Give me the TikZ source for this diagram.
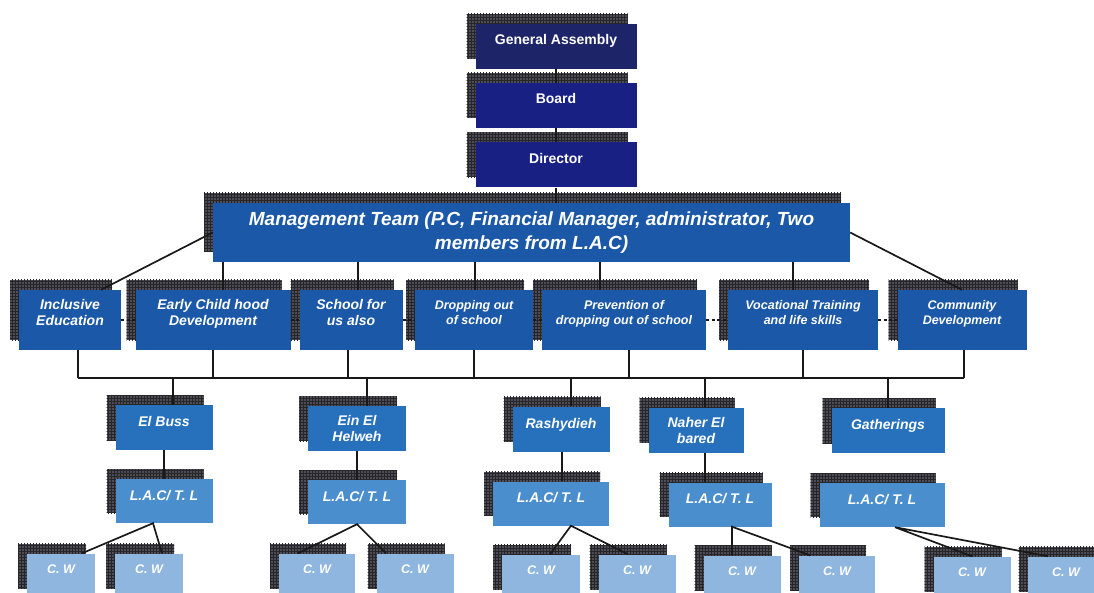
\documentclass[tikz,border=0pt]{standalone}
\usepackage{fontspec}
\setmainfont{Liberation Sans}
\usetikzlibrary{shadows,patterns}

\definecolor{assemblyblue}{RGB}{30,36,104}
\definecolor{navyblue}{RGB}{24,32,132}
\definecolor{teamblue}{RGB}{27,88,168}
\definecolor{campblue}{RGB}{38,112,188}
\definecolor{lacblue}{RGB}{74,142,206}
\definecolor{cwblue}{RGB}{142,182,222}
\definecolor{shadegrey}{RGB}{78,76,88}

\tikzset{
  backing/.style={
    general shadow={shadow xshift=-9pt, shadow yshift=10pt, fill=shadegrey},
    general shadow={shadow xshift=-9pt, shadow yshift=10pt, pattern=grid, pattern color=black!85}},
  box/.style={backing, draw=none, text=white, align=center, inner sep=2pt},
  topbox/.style={box, fill=navyblue, minimum width=161pt, minimum height=45pt,
    text depth=14pt, font=\fontsize{14}{16}\selectfont\bfseries},
  teambox/.style={box, fill=teamblue, minimum height=60pt,
    font=\fontsize{14}{16}\selectfont\bfseries\itshape},
  smallteam/.style={teambox, font=\fontsize{12.5}{15}\selectfont\bfseries\itshape},
  campbox/.style={box, fill=campblue, minimum height=45pt,
    font=\fontsize{14}{16}\selectfont\bfseries\itshape},
  lacbox/.style={box, fill=lacblue, minimum height=44pt, text depth=12pt,
    font=\fontsize{14}{16}\selectfont\bfseries\itshape},
  cwbox/.style={box, fill=cwblue, minimum height=45pt, text depth=14pt,
    font=\fontsize{12.5}{15}\selectfont\bfseries\itshape},
  link/.style={line width=1.7pt, draw=black!90},
  dots/.style={line width=1.8pt, draw=black!90, dash pattern=on 3pt off 2.5pt}
}

\begin{document}
\begin{tikzpicture}[x=1pt, y=-1pt]
  \clip (0,0) rectangle (1094,593);
  \fill[white] (0,0) rectangle (1094,593);

  %% top of the chart
  \node[topbox, fill=assemblyblue] (assembly) at (556,46.5) {General Assembly};
  \node[topbox] (board) at (556,105.5) {Board};
  \node[topbox] (director) at (556,165) {Director};

  \node[teambox, minimum width=637pt, minimum height=59pt,
    font=\fontsize{19}{24}\selectfont\bfseries\itshape] (team) at (531.5,232.5)
    {Management Team (P.C, Financial Manager, administrator, Two\\members from L.A.C)};

  %% programmes
  \node[teambox, minimum width=102pt, text depth=15pt] (ie) at (70,320) {Inclusive\\Education};
  \node[teambox, minimum width=155pt, text depth=15pt] (ecd) at (213,320) {Early Child hood\\Development};
  \node[teambox, minimum width=103pt, text depth=15pt] (sfu) at (351,320) {School for\\us also};
  \node[smallteam, minimum width=118pt, text depth=15pt] (dos) at (474,320) {Dropping out\\of school};
  \node[smallteam, minimum width=164pt, text depth=15pt] (pdos) at (624,320) {Prevention of\\dropping out of school};
  \node[smallteam, minimum width=150pt, text depth=15pt] (vts) at (803,320) {Vocational Training\\and life skills};
  \node[smallteam, minimum width=129pt, text depth=15pt] (cd) at (962,320) {Community\\Development};

  %% camps
  \node[campbox, minimum width=97pt, text depth=12pt] (eb) at (164,427.5) {El Buss};
  \node[campbox, minimum width=98pt] (eeh) at (357,428.5) {Ein El\\Helweh};
  \node[campbox, minimum width=97pt, text depth=12pt] (ra) at (561,429) {Rashydieh};
  \node[campbox, minimum width=95pt] (nb) at (696,430) {Naher El\\bared};
  \node[campbox, minimum width=113pt, text depth=12pt] (gat) at (888,430.5) {Gatherings};

  \node[lacbox, minimum width=97pt] (eb-lac) at (164,501) {L.A.C/ T. L};
  \node[lacbox, minimum width=98pt] (eeh-lac) at (357,502) {L.A.C/ T. L};
  \node[lacbox, minimum width=116pt] (ra-lac) at (551,503.5) {L.A.C/ T. L};
  \node[lacbox, minimum width=103pt] (nb-lac) at (720,504.5) {L.A.C/ T. L};
  \node[lacbox, minimum width=125pt] (gat-lac) at (882,505) {L.A.C/ T. L};

  \node[cwbox, minimum width=68pt] (eb-cw1) at (61,576) {C. W};
  \node[cwbox, minimum width=68pt] (eb-cw2) at (149,576) {C. W};
  \node[cwbox, minimum width=76pt] (eeh-cw1) at (317,576) {C. W};
  \node[cwbox, minimum width=77pt] (eeh-cw2) at (415,576) {C. W};
  \node[cwbox, minimum width=78pt] (ra-cw1) at (541,577) {C. W};
  \node[cwbox, minimum width=77pt] (ra-cw2) at (637,577) {C. W};
  \node[cwbox, minimum width=77pt] (nb-cw1) at (742,578) {C. W};
  \node[cwbox, minimum width=76pt] (nb-cw2) at (837,578) {C. W};
  \node[cwbox, minimum width=77pt] (gat-cw1) at (972,579) {C. W};
  \node[cwbox, minimum width=77pt] (gat-cw2) at (1066,579) {C. W};

  %% lines
  \draw[link] (assembly) -- (board);
  \draw[link] (board) -- (director);
  \draw[link] (director.south) -- (director.south |- team.north);

  \draw[link] (team.west) -- ([xshift=31pt]ie.north);
  \draw[link] (team.east) -- (cd.north);
  \foreach \n/\s in {ecd/10, sfu/7, dos/1, pdos/-24, vts/-10}
    \draw[link] ([xshift=\s pt]\n.north) -- ([xshift=\s pt]\n.north |- team.south);

  \foreach \a/\b in {ie/ecd, ecd/sfu, sfu/dos, dos/pdos, pdos/vts, vts/cd}
    \draw[dots] (\a.east) -- (\b.west);

  \coordinate (bus) at (0,378);
  \foreach \n/\s in {ie/8, ecd/0, sfu/-3, dos/0, pdos/5, vts/0, cd/2}
    \draw[link] ([xshift=\s pt]\n.south) -- ([xshift=\s pt]\n.south |- bus);
  \draw[link] ([xshift=8pt]ie.south |- bus) -- ([xshift=2pt]cd.south |- bus);
  \foreach \n/\s in {eb/9, eeh/10, ra/10, nb/9, gat/0}
    \draw[link] ([xshift=\s pt]\n.north) -- ([xshift=\s pt]\n.north |- bus);

  \draw[link] (eb) -- (eb-lac);
  \draw[link] (eeh) -- (eeh-lac);
  \draw[link] ([xshift=1pt]ra.south) -- ([xshift=1pt]ra.south |- ra-lac.north);
  \draw[link] ([xshift=9pt]nb.south) -- ([xshift=9pt]nb.south |- nb-lac.north);

  \foreach \l/\a/\p/\q in {eb/-11/21/13, eeh/0/-19/-29, ra/20/9/-9, nb/12/-10/-27, gat/13/0/-18}
    \draw[link] ([xshift=\p pt]\l-cw1.north) -- ([xshift=\a pt]\l-lac.south) -- ([xshift=\q pt]\l-cw2.north);
\end{tikzpicture}
\end{document}
